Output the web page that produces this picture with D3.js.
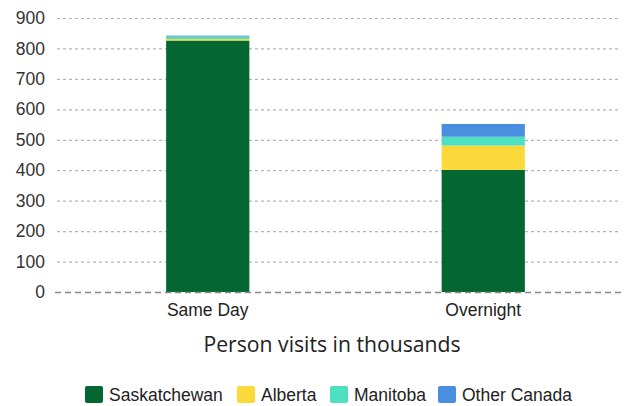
<!DOCTYPE html>
<html>
<head>
<meta charset="utf-8">
<script src="https://cdn.jsdelivr.net/npm/d3@7"></script>
<style>
  body { margin: 0; background: #fff; }
  svg { display: block; }
</style>
</head>
<body>
<div id="chart"></div>
<script>
// data (thousands of person visits)
var categories   = ["Same Day", "Overnight"];
var seriesNames  = ["Saskatchewan", "Alberta", "Manitoba", "Other Canada"];
var saskatchewan = [826, 401];
var alberta      = [5, 80];
var manitoba     = [8, 29];
var otherCanada  = [3, 42];
var yTicks       = [0, 100, 200, 300, 400, 500, 600, 700, 800, 900];
var colors       = ["#046631", "#fcd93a", "#4fe0c1", "#4a8ee0"];

var width = 632, height = 406;
var margin = {top: 18, right: 11, bottom: 114, left: 57};
var labelFont = "17.5px 'Liberation Sans', Arial, sans-serif";

var rows = categories.map(function(c, i) {
    return {cat: c, "Saskatchewan": saskatchewan[i], "Alberta": alberta[i],
            "Manitoba": manitoba[i], "Other Canada": otherCanada[i]};
});
var stacked = d3.stack().keys(seriesNames)(rows);

var svg = d3.select("#chart").append("svg")
    .attr("width", width).attr("height", height);

var x = d3.scaleBand().domain(categories)
    .range([70, width - margin.right]).paddingInner(0.698).paddingOuter(0.349);
var y = d3.scaleLinear().domain([0, 900])
    .range([height - margin.bottom, margin.top]);

// gridlines
svg.append("g").selectAll("line").data(yTicks.filter(function(d) { return d > 0; }))
    .enter().append("line")
    .attr("x1", margin.left).attr("x2", width - margin.right)
    .attr("y1", function(d) { return y(d) + 0.5; }).attr("y2", function(d) { return y(d) + 0.5; })
    .attr("stroke", "#b5b5b5").attr("stroke-width", 1.2).attr("stroke-dasharray", "3,3");

// y labels
svg.append("g").selectAll("text").data(yTicks).enter().append("text")
    .attr("x", 45).attr("y", function(d) { return y(d); }).attr("dy", "0.35em")
    .attr("text-anchor", "end")
    .style("font", labelFont).attr("fill", "#333")
    .text(function(d) { return d; });

// bars
svg.append("g").selectAll("g").data(stacked).enter().append("g")
    .attr("fill", function(d, i) { return colors[i]; })
    .selectAll("rect").data(function(d) { return d; }).enter().append("rect")
    .attr("x", function(d) { return x(d.data.cat); })
    .attr("width", x.bandwidth())
    .attr("y", function(d) { return y(d[1]); })
    .attr("height", function(d) { return y(d[0]) - y(d[1]); });

// zero line
svg.append("line")
    .attr("x1", 55).attr("x2", width - margin.right)
    .attr("y1", y(0) + 0.5).attr("y2", y(0) + 0.5)
    .attr("stroke", "#888").attr("stroke-width", 1.5).attr("stroke-dasharray", "6,4");

// category labels
svg.append("g").selectAll("text").data(categories).enter().append("text")
    .attr("x", function(d) { return x(d) + x.bandwidth() / 2; })
    .attr("y", y(0) + 24).attr("text-anchor", "middle")
    .style("font", labelFont).attr("fill", "#222")
    .text(function(d) { return d; });

// axis title
svg.append("text").attr("x", 332).attr("y", 352).attr("text-anchor", "middle")
    .style("font", "21px 'Open Sans', 'Noto Sans', sans-serif").attr("fill", "#222")
    .attr("textLength", 257).attr("lengthAdjust", "spacingAndGlyphs")
    .text("Person visits in thousands");

// legend
var legendX = [85, 237, 330, 438];
var legend = svg.append("g").selectAll("g").data(seriesNames).enter().append("g")
    .attr("transform", function(d, i) { return "translate(" + legendX[i] + ",386)"; });
legend.append("rect").attr("width", 18).attr("height", 17).attr("rx", 2)
    .attr("fill", function(d, i) { return colors[i]; });
legend.append("text").attr("x", 24).attr("y", 9).attr("dy", "0.35em")
    .style("font", labelFont).attr("fill", "#222")
    .text(function(d) { return d; });
</script>
</body>
</html>
